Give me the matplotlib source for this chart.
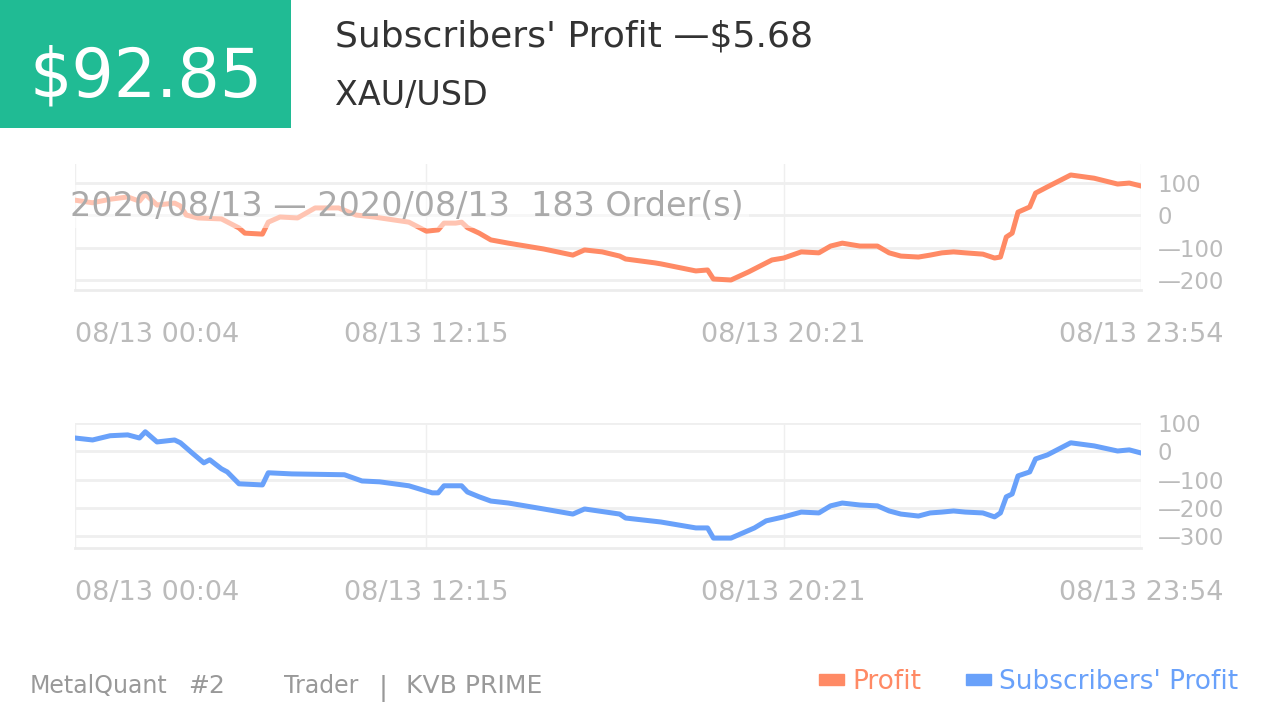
import matplotlib
matplotlib.use("Agg")
from matplotlib import pyplot as plt
from matplotlib.patches import Patch, Rectangle
from matplotlib.ticker import FuncFormatter

# ---- data (x = order index, 183 orders) ----
profit_idx = [0, 3, 6, 9, 11, 12, 14, 17, 18, 19, 21, 25, 28, 29, 32, 33, 35, 38, 41, 45,
              48, 51, 57, 60, 62, 63, 65, 66, 67, 69, 71, 74, 80, 85, 87, 90, 93, 94, 99, 100,
              106, 108, 109, 112, 115, 119, 121, 124, 127, 129, 131, 134, 137, 139, 141, 144,
              146, 148, 150, 152, 155, 157, 158, 159, 160, 161, 163, 164, 166, 170, 174, 178,
              180, 182]
profit = [47, 39, 50, 57, 44, 66, 32, 38, 29, 1, -8, -11, -39, -55, -58, -21, -5, -8, 23, 23,
          1, -5, -21, -49, -45, -24, -24, -21, -38, -55, -76, -86, -104, -123, -107, -113, -126,
          -135, -147, -150, -172, -169, -197, -200, -175, -138, -132, -113, -116, -95, -86, -95,
          -95, -116, -126, -129, -123, -116, -113, -116, -120, -132, -129, -67, -55, 10, 26, 69,
          88, 125, 115, 97, 100, 91]

subs_idx = [0, 3, 6, 9, 11, 12, 14, 17, 18, 20, 22, 23, 25, 26, 28, 32, 33, 37, 46, 49,
            52, 57, 61, 62, 63, 66, 67, 69, 71, 74, 80, 85, 87, 93, 94, 100, 106, 108, 109, 112,
            116, 118, 121, 124, 127, 129, 131, 134, 137, 139, 141, 144, 146, 148, 150, 152, 155,
            157, 158, 159, 160, 161, 163, 164, 166, 170, 174, 178, 180, 182]
subs_profit = [47, 40, 55, 58, 47, 69, 33, 40, 30, -6, -41, -30, -62, -73, -115, -119, -76, -80,
               -83, -105, -108, -122, -147, -147, -122, -122, -144, -161, -176, -183, -204, -222,
               -204, -222, -236, -250, -271, -271, -307, -307, -271, -246, -232, -215, -218, -193,
               -183, -190, -193, -211, -222, -229, -218, -215, -211, -215, -218, -232, -218, -161,
               -151, -87, -73, -27, -13, 30, 19, 1, 5, -6]

x_tick_idx = [0, 60, 121, 182]
x_tick_labels = ["08/13 00:04", "08/13 12:15", "08/13 20:21", "08/13 23:54"]
profit_yticks = [100, 0, -100, -200]
subs_yticks = [100, 0, -100, -200, -300]

total_profit = "$92.85"
subs_total = "Subscribers' Profit \u2014$5.68"
symbol = "XAU/USD"
period_text = "2020/08/13 \u2014 2020/08/13  183 Order(s)"

ORANGE = "#FF8A65"
BLUE = "#69A1FA"
GREEN = "#20BB94"
GRID = "#efefef"
TICK = "#bbbbbb"

W, H = 1266, 719
fig = plt.figure(figsize=(W / 100, H / 100), dpi=100)


def px_box(left, top, right, bottom):
    return [left / W, 1 - bottom / H, (right - left) / W, (bottom - top) / H]


def dash_fmt(v, pos):
    return f"\u2014{abs(int(v))}" if v < 0 else f"{int(v)}"


# header
fig.add_artist(Rectangle((0, 1 - 128 / H), 291 / W, 128 / H, transform=fig.transFigure,
                         facecolor=GREEN, edgecolor="none"))
fig.text(146 / W, 1 - 97 / H, total_profit, ha="center", va="baseline", color="white",
         fontsize=48, parse_math=False)
fig.text(335 / W, 1 - 47 / H, subs_total, ha="left", va="baseline", color="#333333",
         fontsize=26, parse_math=False)
fig.text(335 / W, 1 - 105 / H, symbol, ha="left", va="baseline", color="#333333", fontsize=24)

ax1 = fig.add_axes(px_box(75, 164, 1141, 290))
ax2 = fig.add_axes(px_box(75, 423, 1141, 548))

panels = [
    (ax1, profit_idx, profit, ORANGE, (-231, 159), profit_yticks),
    (ax2, subs_idx, subs_profit, BLUE, (-342, 100), subs_yticks),
]
for ax, idx, vals, color, ylim, yticks in panels:
    ax.plot(idx, vals, color=color, lw=3.6, zorder=3)
    ax.set_xlim(0, 182)
    ax.set_ylim(*ylim)
    ax.set_yticks(yticks)
    ax.yaxis.tick_right()
    ax.yaxis.set_major_formatter(FuncFormatter(dash_fmt))
    ax.set_xticks(x_tick_idx)
    ax.set_xticklabels(x_tick_labels)
    ax.xaxis.get_ticklabels()[0].set_horizontalalignment("left")
    ax.grid(axis="y", color=GRID, lw=2)
    ax.grid(axis="x", color=GRID, lw=1)
    ax.set_axisbelow(True)
    for s in ["top", "left", "right"]:
        ax.spines[s].set_visible(False)
    ax.spines["bottom"].set_color("#ececec")
    ax.spines["bottom"].set_linewidth(2)
    ax.tick_params(axis="y", length=0, colors=TICK, labelsize=16.5, pad=12)
    ax.tick_params(axis="x", length=0, colors=TICK, labelsize=19.5, pad=23)

ax1.text(-0.0047, 0.66, period_text, transform=ax1.transAxes, fontsize=24, color="#aaaaaa",
         va="center", ha="left", zorder=5, clip_on=False,
         bbox=dict(boxstyle="square,pad=0.15", fc="white", ec="none", alpha=0.5))

# footer
fig.text(30 / W, 1 - 693 / H, "MetalQuant", color="#999999", fontsize=17, va="baseline")
fig.text(188 / W, 1 - 693 / H, "#2", color="#999999", fontsize=18, va="baseline")
fig.text(284 / W, 1 - 693 / H, "Trader", color="#999999", fontsize=17, va="baseline")
fig.text(379 / W, 1 - 695 / H, "|", color="#999999", fontsize=19, va="baseline")
fig.text(406 / W, 1 - 693 / H, "KVB PRIME", color="#999999", fontsize=18, va="baseline")

leg = fig.legend(handles=[Patch(color=ORANGE, label="Profit"),
                          Patch(color=BLUE, label="Subscribers' Profit")],
                 loc="center right", bbox_to_anchor=(1238 / W, 1 - 682 / H), ncol=2,
                 frameon=False, fontsize=19, handlelength=0.95, handleheight=0.3,
                 handletextpad=0.3, columnspacing=1.7, borderpad=0, borderaxespad=0)
for t, c in zip(leg.get_texts(), [ORANGE, BLUE]):
    t.set_color(c)

fig.savefig("out.png", dpi=100)
